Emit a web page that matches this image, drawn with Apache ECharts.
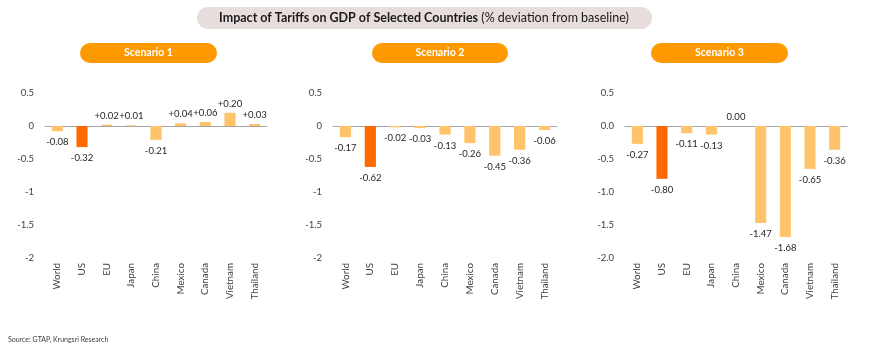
<!DOCTYPE html>
<html><head><meta charset="utf-8">
<script src="https://cdn.jsdelivr.net/npm/echarts@6/dist/echarts.min.js"></script>
<style>html,body{margin:0;padding:0;background:#fff}#c{width:870px;height:358px}</style>
</head><body><div id="c"></div>
<script>
const categories = ['World','US','EU','Japan','China','Mexico','Canada','Vietnam','Thailand'];
const scenario1 = [-0.08,-0.32,0.02,0.01,-0.21,0.04,0.06,0.20,0.03];
const scenario2 = [-0.17,-0.62,-0.02,-0.03,-0.13,-0.26,-0.45,-0.36,-0.06];
const scenario3 = [-0.27,-0.80,-0.11,-0.13,0.00,-1.47,-1.68,-0.65,-0.36];
const scenarioNames = ['Scenario 1','Scenario 2','Scenario 3'];
const ticks12 = ['0.5','0','-0.5','-1','-1.5','-2'];
const ticks3 = ['0.5','0.0','-0.5','-1.0','-1.5','-2.0'];
const titleBold = 'Impact of Tariffs on GDP of Selected Countries';
const titleNormal = ' (% deviation from baseline)';
const sourceText = 'Source: GTAP, Krungsri Research';

const FONT = 'Lato';
const LIGHT = '#FFC46B', DARK = '#FF6A00';
const grids = [{left:45,width:222},{left:333,width:224},{left:625,width:222}];
const pills = [{x:80,w:137},{x:372,w:136},{x:651,w:137}];
const allData = [scenario1, scenario2, scenario3];
const tickSets = [ticks12, ticks12, ticks3];

function tickFormatter(set){
  const vals = [0.5,0,-0.5,-1,-1.5,-2];
  return v => { const i = vals.findIndex(x=>Math.abs(x-v)<1e-9); return i>=0 ? set[i] : ''; };
}

const option = {
  animation:false,
  grid: grids.map(g=>({left:g.left,width:g.width,top:93,bottom:100})),
  xAxis: grids.map((g,i)=>({
    type:'category', gridIndex:i, data:categories,
    axisLine:{onZero:true,lineStyle:{color:'#A6A6A6',width:1}},
    axisTick:{show:false},
    axisLabel:{rotate:90,interval:0,color:'#404040',fontSize:9.8,fontFamily:FONT,margin:5,verticalAlign:'middle'},
    position:'bottom'
  })),
  yAxis: grids.map((g,i)=>({
    type:'value', gridIndex:i, min:-2, max:0.5, interval:0.5,
    axisLine:{show:false}, axisTick:{show:false}, splitLine:{show:false},
    axisLabel:{color:'#404040',fontSize:9.5,fontFamily:FONT,margin:11,formatter:tickFormatter(tickSets[i])}
  })),
  series: allData.map((arr,i)=>({
    type:'bar', xAxisIndex:i, yAxisIndex:i, barWidth:'45%',
    data: arr.map((v,j)=>({
      value:v,
      itemStyle:{color: categories[j]==='US' ? DARK : LIGHT},
      label:{show:true, position: v>=0 ? 'top':'bottom', distance:v>=0?4:6,
        formatter: v>0 ? '+'+v.toFixed(2) : v.toFixed(2),
        color:'#262626', fontSize:9.5, fontFamily:FONT}
    }))
  })),
  graphic: [
    {type:'rect', shape:{x:197,y:7,width:455,height:22,r:11}, style:{fill:'#E7DDDD'}},
    {type:'text', x:424, y:18, style:{rich:{b:{fontWeight:'bold',fontSize:12.5,fontFamily:FONT,fill:'#1a1a1a'},n:{fontSize:12.5,fontFamily:FONT,fill:'#1a1a1a'}},
      text:'{b|'+titleBold+'}{n|'+titleNormal+'}', align:'center', verticalAlign:'middle'}},
    ...pills.flatMap((p,i)=>[
      {type:'rect', shape:{x:p.x,y:43,width:p.w,height:20,r:10}, style:{fill:'#FF9900'}},
      {type:'text', x:p.x+p.w/2, y:53, style:{text:scenarioNames[i], fill:'#fff', fontWeight:'bold', fontSize:10.5, fontFamily:FONT, align:'center', verticalAlign:'middle'}}
    ]),
    {type:'text', x:8, y:340, style:{text:sourceText, fill:'#404040', fontSize:7, fontFamily:FONT, verticalAlign:'middle'}}
  ]
};
const chart = echarts.init(document.getElementById('c'), null, {renderer:'canvas'});
chart.setOption(option);
</script></body></html>
